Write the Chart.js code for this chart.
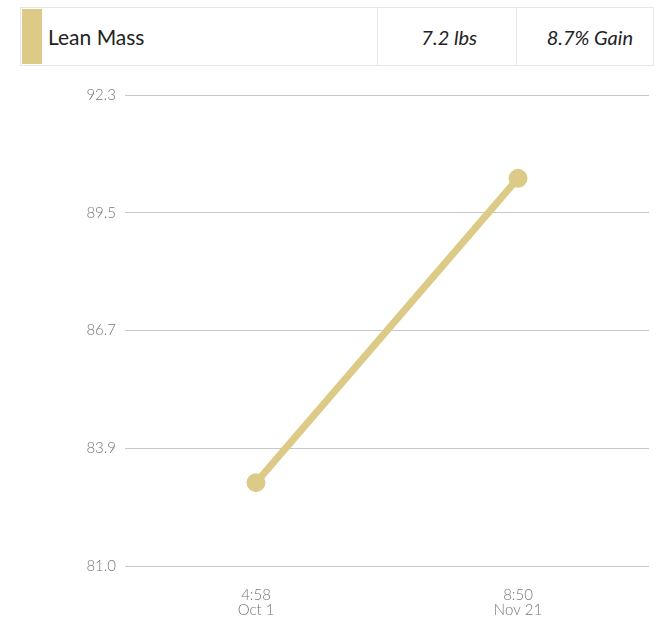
<!DOCTYPE html>
<html><head><meta charset="utf-8">
<script src="https://cdn.jsdelivr.net/npm/chart.js@4.4.1/dist/chart.umd.min.js"></script>
<style>
html,body{margin:0;padding:0;background:#fff;width:662px;height:618px;overflow:hidden;font-family:Lato,"Open Sans",sans-serif;}
#hdr{position:absolute;left:20px;top:7px;width:634px;height:59px;border:1px solid #e6e6e6;box-sizing:border-box;display:flex;}
#sw{width:20px;height:55px;margin:1px 0 1px 1px;background:#dccb86;}
#name{width:335px;box-sizing:border-box;font-size:21px;color:#222;display:flex;align-items:center;padding-left:6px;font-weight:400;}
#v1{width:139px;border-left:1px solid #e6e6e6;font-size:20px;font-style:italic;color:#222;display:flex;align-items:center;justify-content:flex-end;padding-right:39px;box-sizing:border-box;}
#v2{flex:1;border-left:1px solid #e6e6e6;font-size:20px;font-style:italic;color:#222;display:flex;align-items:center;justify-content:flex-end;padding-right:20px;box-sizing:border-box;}
#wrap{position:absolute;left:0;top:70px;width:662px;height:548px;}
#c{display:block;}
</style></head>
<body>
<div id="hdr"><div id="sw"></div><div id="name">Lean Mass</div><div id="v1">7.2 lbs</div><div id="v2">8.7% Gain</div></div>
<div id="wrap"><canvas id="c" width="662" height="548"></canvas></div>
<script>
const categories = [["4:58","Oct 1"],["8:50","Nov 21"]];
const leanMass = [83.0, 90.3];
const tickValues = [81.0, 83.825, 86.65, 89.475, 92.3];
const tickLabels = ["81.0","83.9","86.7","89.5","92.3"];
const yMin = 81.0, yMax = 92.3;

new Chart(document.getElementById('c'), {
  type: 'line',
  data: { labels: categories, datasets: [{
    label: 'Lean Mass', data: leanMass,
    borderColor: '#dccb86', backgroundColor: '#dccb86',
    borderWidth: 7, pointRadius: 6, pointHoverRadius: 6, tension: 0
  }]},
  options: {
    responsive: false, animation: false,
    layout: { padding: { top: 25, right: 10, left: 0, bottom: 0 } },
    plugins: { legend: { display: false }, tooltip: { enabled: false } },
    scales: {
      x: {
        offset: true,
        grid: { display: false },
        border: { display: false },
        ticks: { color: '#777', font: { family: 'Lato', size: 15, weight: 300, lineHeight: 1.0 }, padding: 14, maxRotation: 0 },
        afterFit: s => { s.height = 52; }
      },
      y: {
        min: yMin, max: yMax,
        afterBuildTicks: s => { s.ticks = tickValues.map(v => ({ value: v })); },
        grid: { color: '#c8c8c8', drawTicks: false, lineWidth: 1 },
        border: { display: false },
        ticks: { color: '#777', padding: 9, font: { family: 'Lato', size: 15, weight: 300 },
          callback: (v, i) => tickLabels[i] },
        afterFit: s => { s.width = 125; }
      }
    }
  }
});
</script>
</body></html>
